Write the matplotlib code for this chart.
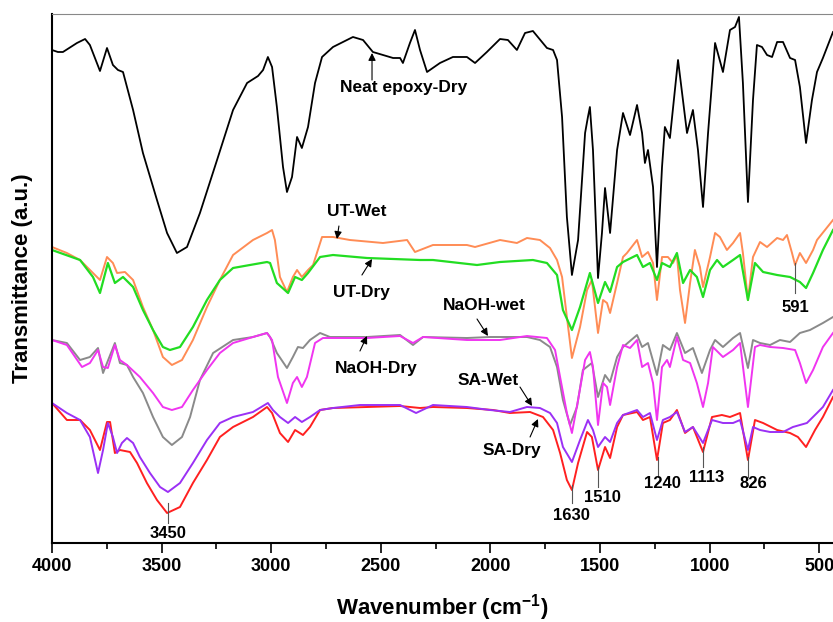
import matplotlib
matplotlib.use("Agg")
import matplotlib.pyplot as plt
from matplotlib.ticker import MultipleLocator

plt.rcParams['font.family'] = ['Liberation Sans', 'DejaVu Sans']
plt.rcParams['mathtext.fontset'] = 'custom'
plt.rcParams['mathtext.rm'] = 'Liberation Sans'
plt.rcParams['mathtext.bf'] = 'Liberation Sans:bold'

# FTIR spectra: wavenumber (cm-1) and transmittance (a.u., offset stack)
neat_dry_wn = [4000, 3973, 3950, 3886, 3849, 3827, 3781, 3749, 3722, 3699, 3676, 3630, 3585, 3521,
               3475, 3430, 3384, 3325, 3247, 3174, 3110, 3060, 3037, 3015, 2996, 2974, 2946, 2928,
               2905, 2882, 2860, 2832, 2800, 2768, 2718, 2627, 2581, 2536, 2490, 2444, 2412, 2399,
               2367, 2344, 2321, 2289, 2230, 2171, 2107, 2070, 2016, 1956, 1920, 1879, 1842, 1806,
               1742, 1714, 1696, 1673, 1651, 1628, 1600, 1568, 1555, 1546, 1532, 1509, 1491, 1477,
               1454, 1422, 1395, 1363, 1331, 1308, 1295, 1281, 1258, 1240, 1217, 1204, 1181, 1144,
               1103, 1076, 1053, 1030, 1007, 975, 939, 907, 884, 866, 848, 825, 802, 784, 761, 738,
               715, 692, 665, 633, 610, 588, 560, 533, 510, 483, 437]
neat_dry_t = [493, 491, 491, 500, 504, 498, 472, 495, 478, 473, 471, 433, 390, 343,
              310, 290, 296, 330, 383, 433, 460, 467, 473, 486, 476, 436, 376, 351,
              366, 406, 395, 416, 460, 486, 496, 506, 503, 491, 488, 485, 485, 480,
              500, 513, 493, 471, 480, 486, 486, 480, 491, 504, 503, 493, 510, 512,
              495, 493, 483, 426, 326, 268, 303, 410, 426, 436, 393, 265, 310, 355,
              310, 393, 430, 408, 438, 410, 380, 393, 356, 276, 376, 416, 405, 483,
              410, 433, 393, 336, 410, 500, 471, 513, 516, 526, 460, 341, 443, 498, 496, 488,
              486, 501, 501, 485, 483, 456, 400, 443, 471, 485, 511]

ut_wet_wn = [4000, 3932, 3872, 3813, 3781, 3749, 3722, 3703, 3667, 3630, 3585, 3539, 3494, 3453,
             3407, 3357, 3293, 3234, 3174, 3083, 3019, 2996, 2983, 2960, 2928, 2901, 2882, 2860,
             2832, 2809, 2768, 2718, 2641, 2490, 2380, 2344, 2262, 2107, 2070, 1956, 1879, 1833,
             1774, 1728, 1696, 1673, 1651, 1628, 1591, 1559, 1537, 1509, 1486, 1468, 1454, 1422,
             1395, 1377, 1331, 1308, 1281, 1258, 1240, 1217, 1190, 1167, 1149, 1135, 1112, 1089,
             1067, 1044, 1030, 998, 975, 953, 921, 893, 861, 848, 825, 802, 770, 738, 692, 665,
             647, 624, 610, 588, 560, 528, 510, 437]
ut_wet_t = [296, 290, 283, 270, 263, 286, 280, 270, 271, 263, 236, 213, 186, 178,
            183, 203, 236, 263, 288, 303, 310, 313, 303, 266, 251, 266, 273, 266,
            273, 278, 306, 306, 303, 300, 303, 291, 298, 298, 296, 303, 300, 305,
            303, 295, 283, 266, 226, 185, 216, 253, 263, 210, 243, 240, 230, 260,
            286, 290, 303, 286, 291, 280, 243, 286, 286, 280, 288, 253, 220, 260,
            293, 276, 256, 286, 310, 306, 293, 300, 310, 290, 243, 286, 301, 296, 305, 303,
            308, 290, 278, 290, 280, 293, 303, 323]

ut_dry_wn = [4000, 3872, 3813, 3781, 3745, 3713, 3676, 3630, 3585, 3539, 3494, 3462, 3416, 3357,
             3293, 3234, 3174, 3097, 3019, 3005, 2974, 2923, 2891, 2860, 2832, 2777, 2718, 2563,
             2321, 2262, 2061, 1956, 1806, 1742, 1696, 1669, 1628, 1591, 1546, 1509, 1477, 1454,
             1422, 1395, 1331, 1304, 1272, 1240, 1217, 1181, 1149, 1121, 1089, 1058, 1030, 998,
             966, 939, 893, 861, 825, 793, 756, 692, 633, 588, 560, 528, 483, 437]
ut_dry_t = [293, 283, 266, 250, 280, 260, 266, 256, 233, 213, 196, 193, 196, 216,
            243, 263, 275, 278, 281, 280, 260, 250, 266, 263, 270, 286, 288, 285,
            283, 283, 278, 281, 283, 280, 268, 233, 213, 236, 270, 240, 261, 251,
            276, 281, 288, 276, 280, 263, 280, 276, 290, 260, 273, 266, 246, 273,
            283, 276, 283, 288, 243, 280, 271, 268, 266, 261, 255, 270, 293, 313]

naoh_wet_wn = [4000, 3932, 3872, 3827, 3790, 3767, 3713, 3690, 3658, 3630, 3585, 3539, 3494, 3453,
               3407, 3370, 3325, 3265, 3174, 3083, 3019, 3005, 2974, 2928, 2901, 2878, 2855, 2823,
               2777, 2732, 2563, 2412, 2353, 2307, 2107, 2002, 1833, 1774, 1728, 1696, 1669, 1637,
               1605, 1578, 1537, 1509, 1477, 1454, 1422, 1395, 1331, 1308, 1281, 1240, 1213, 1181,
               1149, 1112, 1076, 1035, 998, 975, 939, 893, 861, 825, 802, 770, 724, 679, 633, 588,
               542, 483, 437]
naoh_wet_t = [203, 200, 183, 186, 195, 170, 200, 180, 178, 166, 150, 126, 106, 98,
              106, 126, 163, 190, 203, 206, 210, 206, 190, 175, 186, 196, 195, 203,
              210, 206, 206, 208, 198, 206, 205, 206, 206, 203, 196, 176, 143, 118,
              136, 173, 180, 146, 168, 161, 186, 196, 208, 196, 200, 168, 198, 193,
              210, 190, 195, 170, 193, 203, 196, 205, 210, 175, 203, 200, 198, 203, 201, 210,
              213, 220, 226]

naoh_dry_wn = [4000, 3932, 3863, 3827, 3790, 3767, 3745, 3713, 3690, 3658, 3599, 3539, 3494, 3453,
               3407, 3357, 3293, 3234, 3174, 3083, 3019, 2996, 2969, 2928, 2901, 2882, 2860, 2837,
               2800, 2764, 2563, 2412, 2353, 2307, 2107, 1956, 1833, 1742, 1705, 1682, 1651, 1628,
               1600, 1568, 1546, 1532, 1509, 1486, 1468, 1454, 1422, 1395, 1363, 1331, 1308, 1281,
               1258, 1240, 1217, 1194, 1181, 1149, 1121, 1089, 1058, 1030, 1007, 985, 939, 893,
               861, 825, 793, 770, 724, 665, 610, 588, 560, 528, 483, 437]
naoh_dry_t = [203, 198, 176, 180, 193, 176, 175, 198, 183, 178, 166, 150, 136, 133,
              136, 153, 173, 190, 200, 206, 210, 203, 166, 140, 160, 166, 156, 166,
              200, 205, 205, 207, 200, 206, 203, 203, 207, 205, 193, 166, 130, 110,
              143, 183, 191, 176, 118, 160, 156, 138, 176, 198, 195, 203, 176, 180,
              160, 123, 176, 183, 176, 206, 183, 180, 160, 136, 160, 196, 186, 193,
              200, 136, 196, 198, 196, 195, 193, 180, 160, 173, 196, 210]

sa_wet_wn = [4000, 3932, 3872, 3827, 3790, 3767, 3745, 3722, 3703, 3681, 3658, 3630, 3599, 3553,
             3507, 3471, 3416, 3357, 3293, 3234, 3174, 3083, 3015, 2992, 2960, 2923, 2891, 2860,
             2823, 2777, 2718, 2595, 2412, 2339, 2262, 2107, 2002, 1911, 1833, 1774, 1728, 1696,
             1669, 1628, 1591, 1555, 1532, 1509, 1477, 1454, 1422, 1395, 1331, 1304, 1272, 1240,
             1213, 1181, 1149, 1112, 1076, 1030, 989, 939, 893, 861, 825, 802, 770, 724, 665,
             620, 556, 510, 483, 437]
sa_wet_t = [140, 130, 123, 106, 70, 93, 120, 106, 90, 100, 105, 100, 86, 70,
            56, 51, 60, 80, 103, 120, 126, 131, 140, 133, 126, 120, 126, 121,
            126, 133, 135, 138, 138, 130, 138, 136, 133, 131, 136, 135, 130, 120,
            96, 81, 103, 123, 113, 96, 106, 101, 120, 128, 133, 126, 130, 103,
            123, 126, 131, 111, 116, 100, 123, 120, 120, 123, 93, 116, 113, 111, 111,
            116, 120, 130, 136, 153]

sa_dry_wn = [4000, 3932, 3872, 3827, 3781, 3749, 3735, 3713, 3690, 3644, 3612, 3567, 3521, 3475,
             3416, 3357, 3293, 3234, 3174, 3083, 3019, 2996, 2960, 2923, 2891, 2855, 2823, 2777,
             2718, 2563, 2412, 2321, 2262, 2107, 1988, 1911, 1819, 1760, 1714, 1682, 1651, 1628,
             1600, 1559, 1537, 1509, 1477, 1454, 1422, 1395, 1331, 1304, 1272, 1240, 1213, 1181,
             1149, 1112, 1076, 1030, 989, 944, 907, 861, 825, 793, 756, 692, 633, 597, 560, 519,
             483, 437]
sa_dry_t = [140, 123, 123, 113, 93, 121, 121, 90, 93, 91, 80, 60, 43, 30,
            36, 60, 83, 106, 116, 126, 136, 130, 110, 101, 113, 108, 116, 133,
            135, 136, 137, 135, 136, 135, 133, 130, 131, 126, 113, 90, 63, 53,
            80, 111, 106, 73, 96, 85, 116, 128, 131, 123, 126, 83, 120, 123,
            133, 110, 116, 91, 126, 128, 126, 130, 83, 123, 120, 113, 110, 106, 96, 113,
            126, 146]

# labelled bands: text, x of the marker line, line bottom/top, text position
peak_text = ['3450', '1630', '1510', '1240', '1113', '826', '591']
peak_x = [3471, 1628, 1509, 1235, 1030, 825, 610]
peak_lo = [20, 40, 56, 66, 76, 66, 250]
peak_hi = [40, 58, 76, 86, 96, 86, 280]
peak_tx = [3471, 1628, 1491, 1217, 1012, 802, 610]
peak_ty = [10, 28, 46, 60, 66, 60, 236]

fig = plt.figure(figsize=(8.33, 6.22), dpi=100)
ax = fig.add_axes([0.0624, 0.127, 0.9376, 0.8505])

kw = dict(lw=1.4, solid_joinstyle='round')
ax.plot(neat_dry_wn, neat_dry_t, color='black', lw=1.3, solid_joinstyle='round')
ax.plot(ut_wet_wn, ut_wet_t, color='#FF8C55', **kw)
ax.plot(ut_dry_wn, ut_dry_t, color='#22DD22', lw=1.6, solid_joinstyle='round')
ax.plot(naoh_wet_wn, naoh_wet_t, color='#8A8A8A', **kw)
ax.plot(naoh_dry_wn, naoh_dry_t, color='#F035F0', **kw)
ax.plot(sa_dry_wn, sa_dry_t, color='#FF2020', **kw)
ax.plot(sa_wet_wn, sa_wet_t, color='#9B30F5', **kw)

# curve labels with arrows
arrow = dict(arrowstyle='-|>', color='black', lw=0.8, mutation_scale=11, shrinkA=0, shrinkB=0)
lab = dict(ha='center', va='center', fontsize=12.5, fontweight='bold')
ax.text(2394, 455, 'Neat epoxy-Dry', **lab)
ax.annotate('', xy=(2540, 490), xytext=(2540, 463), arrowprops=arrow)
ax.text(2609, 331, 'UT-Wet', **lab)
ax.annotate('', xy=(2700, 304), xytext=(2691, 317), arrowprops=arrow)
ax.text(2586, 251, 'UT-Dry', **lab)
ax.annotate('', xy=(2540, 284), xytext=(2586, 268), arrowprops=arrow)
ax.text(2029, 238, 'NaOH-wet', **lab)
ax.annotate('', xy=(2011, 207), xytext=(2061, 224), arrowprops=arrow)
ax.text(2522, 175, 'NaOH-Dry', **lab)
ax.annotate('', xy=(2563, 207), xytext=(2595, 192), arrowprops=arrow)
ax.text(2011, 163, 'SA-Wet', **lab)
ax.annotate('', xy=(1810, 137), xytext=(1865, 156), arrowprops=arrow)
ax.text(1901, 93, 'SA-Dry', **lab)
ax.annotate('', xy=(1783, 124), xytext=(1819, 106), arrowprops=arrow)

for t, x, lo, hi, tx, ty in zip(peak_text, peak_x, peak_lo, peak_hi, peak_tx, peak_ty):
    ax.plot([x, x], [lo, hi], color='#555555', lw=0.8)
    ax.text(tx, ty, t, ha='center', va='center', fontsize=12, fontweight='bold')

ax.set_xlim(4000, 437)
ax.set_ylim(0, 529)
ax.xaxis.set_major_locator(MultipleLocator(500))
ax.xaxis.set_minor_locator(MultipleLocator(250))
ax.tick_params(axis='x', which='major', direction='out', length=7, width=1.2, pad=4,
               labelsize=13)
ax.tick_params(axis='x', which='minor', direction='out', length=4, width=1.2)
for lb in ax.get_xticklabels():
    lb.set_fontweight('bold')
ax.set_yticks([])
ax.spines['right'].set_visible(False)
ax.spines['top'].set_color('#888888')
ax.spines['left'].set_linewidth(1.5)
ax.spines['bottom'].set_linewidth(1.5)

ax.set_xlabel(r'Wavenumber (cm$^{\mathbf{-1}}$)', fontsize=16, fontweight='bold', labelpad=12)
ax.set_ylabel('Transmittance (a.u.)', fontsize=16, fontweight='bold', labelpad=14)

fig.savefig('out.png', dpi=100)
